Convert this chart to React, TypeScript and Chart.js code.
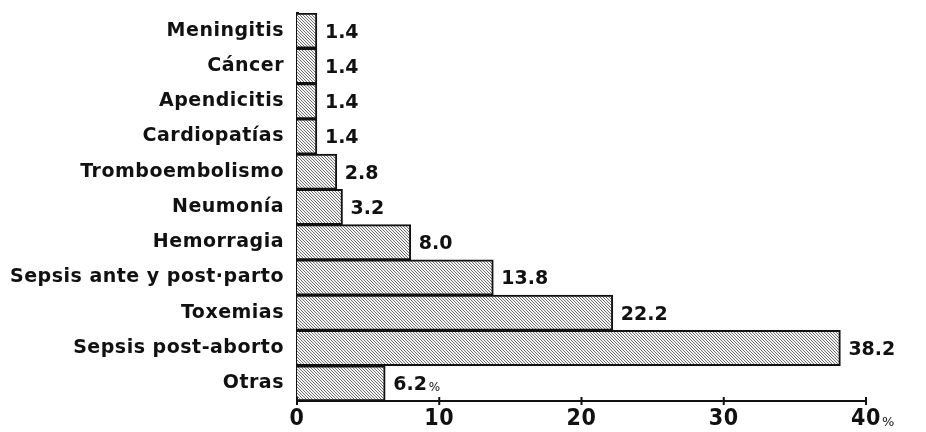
import React, { useEffect, useRef } from "react";
import { Chart, registerables } from "chart.js";

Chart.register(...registerables);

const categories = [
  "Meningitis",
  "Cáncer",
  "Apendicitis",
  "Cardiopatías",
  "Tromboembolismo",
  "Neumonía",
  "Hemorragia",
  "Sepsis ante y post·parto",
  "Toxemias",
  "Sepsis post-aborto",
  "Otras",
];
const values = [1.4, 1.4, 1.4, 1.4, 2.8, 3.2, 8.0, 13.8, 22.2, 38.2, 6.2];
const xTicks = [0, 10, 20, 30, 40];
const pctOnValueIndex = 10;

const FONT = "'DejaVu Sans', sans-serif";
const FONT_COND = "'DejaVu Sans Condensed', 'DejaVu Sans', sans-serif";

function makePattern(ctx: CanvasRenderingContext2D) {
  const s = 3;
  const c = document.createElement("canvas");
  c.width = s;
  c.height = s;
  const p = c.getContext("2d")!;
  p.fillStyle = "#f6f6f6";
  p.fillRect(0, 0, s, s);
  p.fillStyle = "#707070";
  for (let i = 0; i < s; i++) p.fillRect(i, i, 1, 1);
  return ctx.createPattern(c, "repeat")!;
}

const spacing = {
  id: "spacing",
  beforeDraw(chart: any) {
    (chart.ctx as any).letterSpacing = "0.5px";
  },
};

const valueLabels = {
  id: "valueLabels",
  afterDatasetsDraw(chart: any) {
    const ctx = chart.ctx as any;
    const meta = chart.getDatasetMeta(0);
    ctx.save();
    ctx.letterSpacing = "0px";
    ctx.fillStyle = "#111";
    ctx.textBaseline = "middle";
    ctx.textAlign = "left";
    meta.data.forEach((bar: any, i: number) => {
      const txt = values[i].toFixed(1);
      ctx.font = `bold 19px ${FONT}`;
      const x = bar.x + 8;
      const y = bar.y + 2;
      ctx.fillText(txt, x, y);
      if (i === pctOnValueIndex) {
        const w = ctx.measureText(txt).width;
        ctx.font = `12px ${FONT}`;
        ctx.fillText("%", x + w + 2, y + 3);
      }
    });
    const xs = chart.scales.x;
    const lastX = xs.getPixelForValue(xTicks[xTicks.length - 1]);
    ctx.font = `13px ${FONT}`;
    ctx.textBaseline = "alphabetic";
    ctx.fillText("%", lastX + 16, 426);
    ctx.strokeStyle = "#111";
    ctx.lineWidth = 2;
    const yAxis = chart.chartArea.bottom;
    xTicks.forEach((t) => {
      const px = xs.getPixelForValue(t);
      ctx.beginPath();
      ctx.moveTo(px, yAxis - 4);
      ctx.lineTo(px, yAxis + 4);
      ctx.stroke();
    });
    ctx.restore();
  },
};

export default function App() {
  const ref = useRef<HTMLCanvasElement>(null);
  useEffect(() => {
    const canvas = ref.current!;
    const ctx = canvas.getContext("2d")!;
    const pattern = makePattern(ctx);
    const chart = new Chart(canvas, {
      type: "bar",
      data: {
        labels: categories,
        datasets: [
          {
            data: values,
            backgroundColor: pattern as any,
            borderColor: "#111",
            borderWidth: 2,
            barPercentage: 1,
            categoryPercentage: 1,
          },
        ],
      },
      options: {
        indexAxis: "y",
        animation: false,
        responsive: false,
        maintainAspectRatio: false,
        events: [],
        layout: { padding: { top: 13, right: 60, left: 0, bottom: 0 } },
        plugins: {
          legend: { display: false },
          tooltip: { enabled: false },
        },
        scales: {
          x: {
            type: "linear",
            min: 0,
            max: 40,
            afterBuildTicks: (scale: any) => {
              scale.ticks = xTicks.map((v) => ({ value: v }));
            },
            afterFit: (scale: any) => {
              scale.height = 31;
              scale.paddingLeft = 0;
              scale.paddingRight = 0;
            },
            grid: { display: false, drawTicks: false },
            border: { display: true, color: "#111", width: 2 },
            ticks: {
              color: "#111",
              padding: 4,
              font: { family: FONT_COND, size: 23, weight: "bold" },
              callback: (v: any) => String(v),
            },
          },
          y: {
            type: "category",
            afterFit: (scale: any) => {
              scale.width = 297;
              scale.paddingTop = 0;
              scale.paddingBottom = 0;
            },
            grid: { display: false, drawTicks: false },
            border: { display: true, color: "#111", width: 3 },
            ticks: {
              color: "#111",
              padding: 13,
              font: { family: FONT, size: 19, weight: "bold" },
            },
          },
        },
      },
      plugins: [spacing, valueLabels],
    });
    return () => chart.destroy();
  }, []);
  return (
    <div style={{ position: "absolute", left: 0, top: 0, width: 926, height: 432, background: "#fff" }}>
      <canvas ref={ref} width={926} height={432} />
    </div>
  );
}
